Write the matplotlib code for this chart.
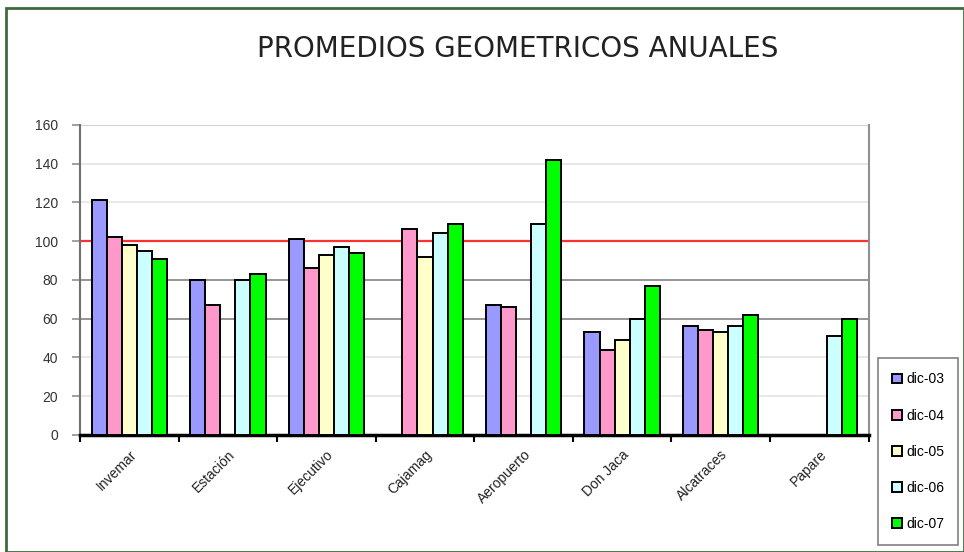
import numpy as np
import matplotlib
matplotlib.use("Agg")
import matplotlib.pyplot as plt
from matplotlib.patches import Rectangle

categories = ["Invemar", "Estación", "Ejecutivo", "Cajamag", "Aeropuerto", "Don Jaca", "Alcatraces", "Papare"]
series_names = ["dic-03", "dic-04", "dic-05", "dic-06", "dic-07"]
dic03 = [121, 80, 101, np.nan, 67, 53, 56, np.nan]
dic04 = [102, 67, 86, 106, 66, 44, 54, np.nan]
dic05 = [98, np.nan, 93, 92, np.nan, 49, 53, np.nan]
dic06 = [95, 80, 97, 104, 109, 60, 56, 51]
dic07 = [91, 83, 94, 109, 142, 77, 62, 60]
limit_value = 100
yticks = [0, 20, 40, 60, 80, 100, 120, 140, 160]

series = [dic03, dic04, dic05, dic06, dic07]
colors = ["#9999ff", "#ff99cc", "#ffffcc", "#ccffff", "#00ff00"]

fig = plt.figure(figsize=(9.64, 5.52), dpi=100)
fig.patch.set_facecolor("white")
fig.patches.append(Rectangle((0.006, 0.0), 0.994, 0.986, transform=fig.transFigure,
                             fill=False, edgecolor="#3d6b3d", linewidth=2.0, zorder=0))

ax = fig.add_axes([0.083, 0.212, 0.818, 0.562])
n = len(categories)
x = np.arange(n)
bw = 0.153
for i, (vals, c, name) in enumerate(zip(series, colors, series_names)):
    offs = (i - 2) * bw
    ax.bar(x + offs, vals, width=bw, color=c, edgecolor="black", linewidth=1.4,
           label=name, zorder=3)

grid_colors = {60: "#8c8c8c", 80: "#8c8c8c", 160: "#cfcfcf"}
for v in yticks[1:]:
    ax.axhline(v, color=grid_colors.get(v, "#e6e6e6"), linewidth=1.3, zorder=1)

ax.axhline(limit_value, color="#ff3030", linewidth=1.6, zorder=2)

ax.set_xlim(-0.5, n - 0.5)
ax.set_ylim(0, 160)
ax.set_yticks(yticks)
ax.set_yticklabels([str(v) for v in yticks], fontsize=10, family="Liberation Sans", color="#333333")

ax.set_xticks(np.arange(n + 1) - 0.5)
ax.set_xticklabels([])
ax.set_xticks(x, minor=True)
ax.set_xticklabels(categories, minor=True, rotation=45, ha="right", rotation_mode="anchor",
                   fontsize=10, family="Liberation Sans", color="#222222")
ax.tick_params(axis="x", which="minor", length=0, pad=9)
ax.tick_params(axis="x", which="major", length=5, width=1.5, direction="out")
ax.tick_params(axis="y", length=6, width=1.2, color="#909090", pad=10)

ax.spines["top"].set_visible(False)
ax.spines["left"].set_color("#707070")
ax.spines["left"].set_linewidth(1.5)
ax.spines["right"].set_color("#909090")
ax.spines["right"].set_linewidth(1.5)
ax.spines["bottom"].set_color("black")
ax.spines["bottom"].set_linewidth(2.5)

fig.text(0.537, 0.912, "PROMEDIOS GEOMETRICOS ANUALES", ha="center", va="center",
         fontsize=20, family="DejaVu Sans", color="#222222")

leg = fig.legend(loc="lower left", bbox_to_anchor=(0.904, 0.0), bbox_transform=fig.transFigure,
                 frameon=True, fancybox=False, edgecolor="#606060",
                 handlelength=0.7, handleheight=0.7, handletextpad=0.3, labelspacing=1.6,
                 borderpad=1.0, prop={"family": "Liberation Sans", "size": 10})
leg.get_frame().set_linewidth(1.2)

fig.savefig("out.png", dpi=100, facecolor="white")
